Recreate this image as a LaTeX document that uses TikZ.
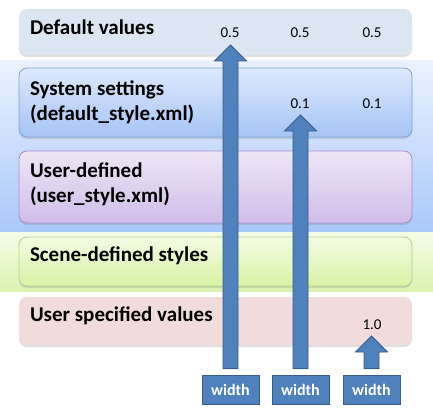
\documentclass[tikz,border=0pt]{standalone}
\usepackage{fontspec}
\setmainfont{Carlito}
\usetikzlibrary{calc}
\usetikzlibrary{shadows}
\usepackage{xcolor}

\definecolor{arrowblue}{HTML}{4F81BD}
\definecolor{arrowedge}{HTML}{385D8A}
\definecolor{defaultfill}{HTML}{DCE6F2}
\definecolor{systop}{HTML}{DDE9FC}
\definecolor{sysbot}{HTML}{A6C4F5}
\definecolor{sysedge}{HTML}{7FA4DB}
\definecolor{usertop}{HTML}{EEE6F5}
\definecolor{userbot}{HTML}{D0BDE9}
\definecolor{useredge}{HTML}{A98FCB}
\definecolor{scenetop}{HTML}{F2FBE2}
\definecolor{scenebot}{HTML}{D8F3A6}
\definecolor{sceneedge}{HTML}{B4D38A}
\definecolor{specfill}{HTML}{F2DCDB}
\definecolor{bandbluetop}{HTML}{EBF2FE}
\definecolor{bandbluebot}{HTML}{A9C8FA}
\definecolor{bandgreentop}{HTML}{F5FCE8}
\definecolor{bandgreenbot}{HTML}{DCF3B0}

% block arrow from a width box up to a value
\newcommand{\blockarrow}[2]{%
  \draw [blockarrow] ($(#1.north)+(-7.5,6)$) --
  ($(#1.north |- #2.base)+(-7.5,-23)$) -- ++(-8.5,0) --
  ($(#1.north |- #2.base)+(0,-7)$) --
  ($(#1.north |- #2.base)+(16,-23)$) -- ++(-8.5,0) --
  ($(#1.north)+(7.5,6)$) -- cycle;}

\begin{document}
\begin{tikzpicture}[x=1pt, y=1pt, line width=0.8pt,
  layer/.style={rectangle, rounded corners=8pt, minimum width=393pt,
    inner sep=0pt, drop shadow={shadow xshift=0pt, shadow yshift=-2pt,
    opacity=0.25}},
  title/.style={anchor=base west, inner sep=0pt, align=left,
    font=\fontsize{21}{25}\selectfont\bfseries},
  value/.style={anchor=base, inner sep=0pt, font=\fontsize{15}{18}\selectfont},
  widthbox/.style={rectangle, draw=arrowedge, fill=arrowblue,
    minimum width=57pt, minimum height=29pt, inner sep=0pt, text=white,
    font=\fontsize{16}{19}\selectfont\bfseries},
  blockarrow/.style={draw=arrowedge, fill=arrowblue, line width=0.8pt}]

  \useasboundingbox (0,0) rectangle (433,413);

  % bands behind the layers
  \shade [top color=bandbluetop, bottom color=bandbluebot]
  (0,181) rectangle (433,352);
  \shade [top color=bandgreentop, bottom color=bandgreenbot]
  (0,122) rectangle (433,181);

  % layer 1: defaults
  \node [layer, fill=defaultfill, minimum height=46pt, name=default] at
  (215.5,381) {};
  \node [title] at ($(default.north west)+(11,-26)$) {Default values};

  % layer 2: system settings
  \node [layer, draw=sysedge, top color=systop, bottom color=sysbot,
  minimum height=69pt, name=system] at (215.5,310.5) {};
  \node [title] at ($(system.north west)+(11,-53)$)
  {System settings\\(default\_style.xml)};

  % layer 3: user-defined
  \node [layer, draw=useredge, top color=usertop, bottom color=userbot,
  minimum height=72pt, name=user] at (215.5,226) {};
  \node [title] at ($(user.north west)+(11,-52)$)
  {User-defined\\(user\_style.xml)};

  % layer 4: scene
  \node [layer, draw=sceneedge, top color=scenetop, bottom color=scenebot,
  minimum height=49pt, name=scene] at (215.5,151.5) {};
  \node [title] at ($(scene.north west)+(11,-25)$) {Scene-defined styles};

  % layer 5: user specified
  \node [layer, fill=specfill, minimum height=48pt, name=spec] at
  (215.5,92) {};
  \node [title] at ($(spec.north west)+(11,-25)$) {User specified values};

  % values
  \node [value, name=v1] at (230,375) {0.5};
  \node [value, name=v2] at (300,375) {0.5};
  \node [value, name=v3] at (372,375) {0.5};
  \node [value, name=s1] at (300,305) {0.1};
  \node [value, name=s2] at (372,305) {0.1};
  \node [value, name=u1] at (372,84) {1.0};

  % width boxes
  \node [widthbox, name=w1] at (230.5,23.5) {width};
  \node [widthbox, name=w2] at (300.5,23.5) {width};
  \node [widthbox, name=w3] at (371.5,23.5) {width};

  % arrows
  \blockarrow{w1}{v1}
  \blockarrow{w2}{s1}
  \blockarrow{w3}{u1}
\end{tikzpicture}
\end{document}
